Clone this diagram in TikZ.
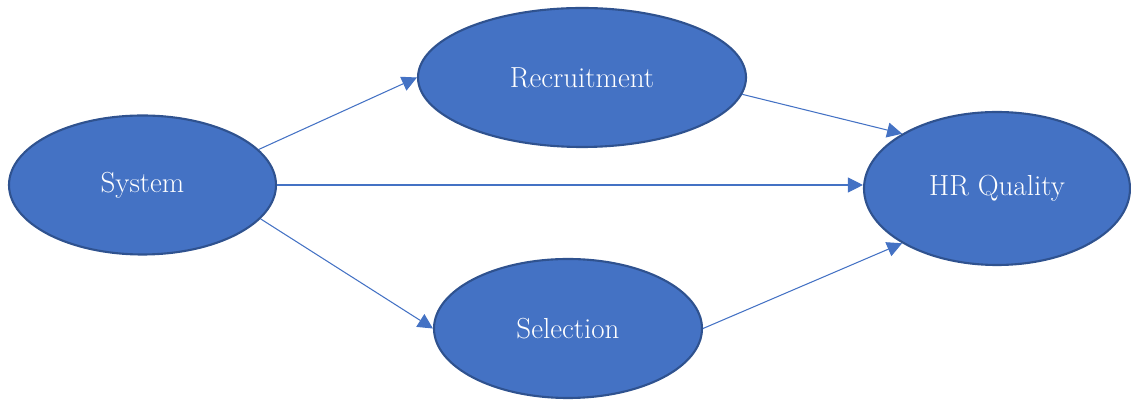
\documentclass[tikz,border=0pt]{standalone}
\usepackage{tikz}
\usetikzlibrary{shapes.geometric}
\usetikzlibrary{arrows.meta}

\definecolor{blobfill}{HTML}{4472C4}
\definecolor{blobline}{HTML}{2F528F}

\tikzset{
    construct/.style={ellipse, draw=blobline, line width=1.2pt, fill=blobfill,
        text=white, inner sep=0pt, font=\fontsize{16.5}{19}\selectfont},
    path/.style={draw=blobfill, line width=0.6pt, -{Triangle[length=3mm, width=3mm]}}
}

\begin{document}
\begin{tikzpicture}
    \useasboundingbox (0,0) rectangle (22.62,8);

    % Constructs
    \node[construct, minimum width=5.34cm, minimum height=2.78cm] (system) at (2.85,4.3) {System};
    \node[construct, minimum width=6.56cm, minimum height=2.78cm] (recruit) at (11.64,6.45) {Recruitment};
    \node[construct, minimum width=5.36cm, minimum height=2.78cm] (select) at (11.36,1.43) {Selection};
    \node[construct, minimum width=5.32cm, minimum height=3.06cm] (quality) at (19.94,4.23) {HR Quality};

    % Paths
    \draw[path] (system.17) -- (recruit.west);
    \draw[path] (system.east) -- (system.east -| quality.west);
    \draw[path] (system.-16) -- (select.west);
    \draw[path] (recruit.-6) -- (quality.150);
    \draw[path] (select.east) -- (quality.210);
\end{tikzpicture}
\end{document}
